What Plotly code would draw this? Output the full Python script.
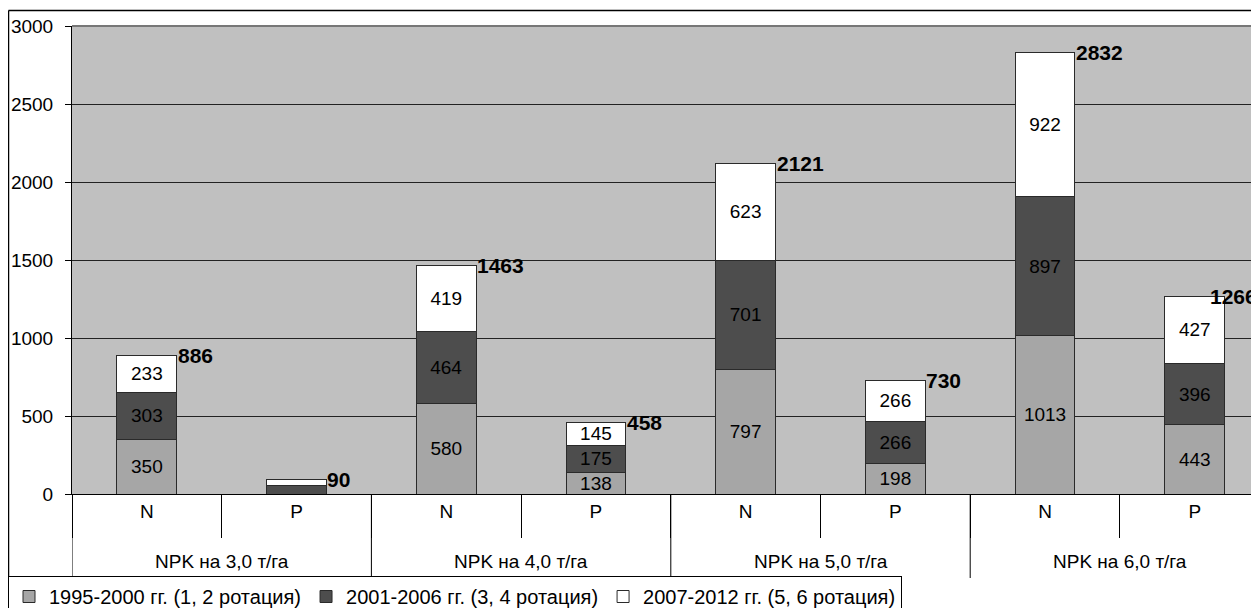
import plotly.graph_objects as go

groups = ["NPK на 3,0 т/га", "NPK на 4,0 т/га", "NPK на 5,0 т/га", "NPK на 6,0 т/га"]
nutrients = ["N", "P"]
categories = [g + " | " + n for g in groups for n in nutrients]
tick_labels = [n for g in groups for n in nutrients]

series_names = ["1995-2000 гг. (1, 2 ротация)", "2001-2006 гг. (3, 4 ротация)", "2007-2012 гг. (5, 6 ротация)"]
s1995 = [350, 0, 580, 138, 797, 198, 1013, 443]
s2001 = [303, 56, 464, 175, 701, 266, 897, 396]
s2007 = [233, 34, 419, 145, 623, 266, 922, 427]
totals = [886, 90, 1463, 458, 2121, 730, 2832, 1266]

colors = ["#A6A6A6", "#4D4D4D", "#FFFFFF"]
FONT = "Liberation Sans, Arial, sans-serif"

# the page body adds an 8px offset; figure coordinates below are page coords - 8
W, H = 1259, 608
BODY = 8
ML, MT, MB, MR = 64, 18, 122, 0
pw, ph = W - ML - MR, H - MT - MB
CAT_PX = 149.7
x_end = -0.5 + pw / CAT_PX
x_visible = x_end - BODY / CAT_PX

def px_x(p):
    return (p - ML) / pw

def px_y(p):
    return (H - MB - p) / ph

fig = go.Figure()
for name, vals, col in zip(series_names, [s1995, s2001, s2007], colors):
    fig.add_trace(go.Bar(
        x=categories, y=vals, name=name,
        marker=dict(color=col, line=dict(color="#2a2a2a", width=1)),
        text=[str(v) if v >= 100 else "" for v in vals],
        textposition="inside", insidetextanchor="middle",
        constraintext="none",
        textfont=dict(family=FONT, size=19, color="#000000"),
    ))

# totals to the right of each stacked bar (kept inside the visible window)
TOT_SIZE = 21
for i, t in enumerate(totals):
    w_units = (len(str(t)) * 0.556 * TOT_SIZE + 3) / CAT_PX
    xl = min(i + 0.2, x_visible - w_units)
    fig.add_annotation(x=xl, y=t, xref="x", yref="y", text="<b>%d</b>" % t,
                       showarrow=False, xanchor="left", yanchor="middle", xshift=-1,
                       font=dict(family=FONT, size=TOT_SIZE, color="#000000"))

# group labels and group dividers on the category axis
n_sub = len(nutrients)
for k, g in enumerate(groups):
    fig.add_annotation(x=k * n_sub + (n_sub - 1) / 2, y=px_y(553), xref="x", yref="paper",
                       text=g, showarrow=False, xanchor="center", yanchor="middle",
                       font=dict(family=FONT, size=19, color="#000000"))
for k in range(len(groups)):
    xb = k * n_sub - 0.5
    fig.add_shape(type="line", xref="x", yref="paper", x0=xb, x1=xb, y0=0, y1=px_y(570),
                  line=dict(color="#000000", width=1))

# plot top border (gray) and outer chart frame
fig.add_shape(type="line", xref="paper", yref="paper", x0=0, x1=1, y0=1, y1=1,
              line=dict(color="#777777", width=2))
fig.add_shape(type="line", xref="paper", yref="paper", x0=px_x(0.5), x1=1.01, y0=px_y(2.5), y1=px_y(2.5),
              line=dict(color="#000000", width=1.5))
fig.add_shape(type="line", xref="paper", yref="paper", x0=px_x(0.5), x1=px_x(0.5), y0=px_y(2.5), y1=px_y(608),
              line=dict(color="#000000", width=1.5))

fig.update_layout(
    width=W, height=H,
    margin=dict(l=ML, r=MR, t=MT, b=MB, pad=0, autoexpand=False),
    paper_bgcolor="#FFFFFF", plot_bgcolor="#C0C0C0",
    barmode="stack", bargap=0.6,
    font=dict(family=FONT, size=19, color="#000000"),
    showlegend=True,
    legend=dict(orientation="h", x=px_x(0), y=px_y(568), xanchor="left", yanchor="top",
                bordercolor="#000000", borderwidth=1, bgcolor="#FFFFFF",
                font=dict(family=FONT, size=20, color="#000000"),
                itemwidth=30, tracegroupgap=0, traceorder="normal"),
    xaxis=dict(type="category", range=[-0.5, x_end], automargin=False,
               tickmode="array", tickvals=categories, ticktext=tick_labels,
               showline=True, linecolor="#000000", linewidth=1,
               ticks="outside", tickson="boundaries", ticklen=43, tickcolor="#000000",
               tickfont=dict(family=FONT, size=19, color="#000000"),
               showgrid=False, zeroline=False),
    yaxis=dict(range=[0, 3000], dtick=500, showgrid=True, gridcolor="#222222", gridwidth=1,
               automargin=False,
               showline=True, linecolor="#000000", linewidth=1,
               ticks="outside", ticklen=6, tickcolor="#000000",
               ticklabelstandoff=8,
               tickfont=dict(family=FONT, size=19, color="#000000"),
               zeroline=False),
)

fig.write_html("out.html")
